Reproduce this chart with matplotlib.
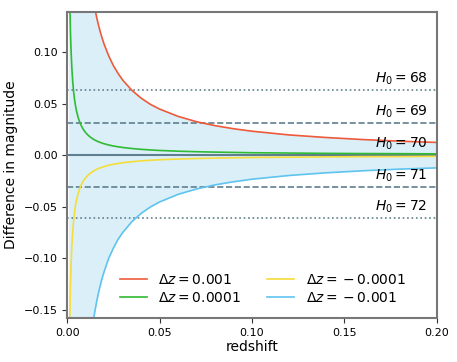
import matplotlib
matplotlib.use("Agg")
import matplotlib.pyplot as plt

# redshift grid
z = [0.0011, 0.0012, 0.0014, 0.0016, 0.0018, 0.002, 0.0025, 0.003, 0.0035,
     0.004, 0.0045, 0.005, 0.006, 0.007, 0.008, 0.009, 0.01, 0.011, 0.012,
     0.013, 0.014, 0.015, 0.016, 0.017, 0.018, 0.019, 0.02, 0.0225, 0.025,
     0.0275, 0.03, 0.035, 0.04, 0.045, 0.05, 0.06, 0.07, 0.08, 0.09, 0.1,
     0.12, 0.14, 0.16, 0.18, 0.2]

dm_p001 = [1.406, 1.318, 1.172, 1.056, 0.961, 0.882, 0.733, 0.627, 0.545,
           0.487, 0.436, 0.398, 0.337, 0.292, 0.258, 0.230, 0.209, 0.1913,
           0.1755, 0.1628, 0.1515, 0.1419, 0.1333, 0.1258, 0.1191, 0.1131,
           0.1076, 0.0962, 0.0869, 0.0794, 0.0729, 0.0629, 0.0553, 0.0493,
           0.0447, 0.0376, 0.0324, 0.0286, 0.0256, 0.0232, 0.0196, 0.0171,
           0.0151, 0.0135, 0.0123]
dm_p0001 = [0.189, 0.174, 0.150, 0.1318, 0.1176, 0.1061, 0.0854, 0.0714,
            0.0614, 0.0538, 0.0480, 0.0432, 0.0361, 0.0310, 0.0272, 0.0242,
            0.0218, 0.0199, 0.0182, 0.0169, 0.0156, 0.0146, 0.0137, 0.0129,
            0.0122, 0.0116, 0.0110, 0.0098, 0.0088, 0.0081, 0.0074, 0.0064,
            0.0056, 0.0050, 0.0045, 0.0038, 0.0033, 0.0029, 0.0026, 0.0023,
            0.0020, 0.0017, 0.0015, 0.0014, 0.0012]
dm_m0001 = [-0.207, -0.189, -0.1611, -0.1403, -0.1243, -0.1116, -0.0888,
            -0.0738, -0.0632, -0.0552, -0.0490, -0.0441, -0.0367, -0.0314,
            -0.0275, -0.0244, -0.0220, -0.0200, -0.0184, -0.0170, -0.0158,
            -0.0147, -0.0138, -0.0130, -0.0123, -0.0116, -0.0111, -0.0098,
            -0.0089, -0.0081, -0.0074, -0.0064, -0.0056, -0.0050, -0.0045,
            -0.0038, -0.0033, -0.0029, -0.0026, -0.0023, -0.0020, -0.0017,
            -0.0015, -0.0014, -0.0012]
dm_m001 = [-5.209, -3.893, -2.722, -2.132, -1.763, -1.507, -1.111, -0.882,
           -0.731, -0.626, -0.546, -0.486, -0.398, -0.337, -0.292, -0.258,
           -0.2305, -0.2087, -0.1906, -0.1754, -0.1626, -0.1515, -0.1418,
           -0.1333, -0.1258, -0.1191, -0.1131, -0.1001, -0.0903, -0.0819,
           -0.0753, -0.0646, -0.0566, -0.0504, -0.0455, -0.0381, -0.0329,
           -0.0289, -0.0259, -0.0234, -0.0198, -0.0172, -0.0152, -0.0136,
           -0.0124]

h0_values = [68, 69, 70, 71, 72]
h0_offsets = [0.0630, 0.0312, 0.0, -0.0308, -0.0612]
h0_styles = [":", "--", "-", "--", ":"]

fig = plt.figure(figsize=(4.57, 3.62), dpi=100)
ax = fig.add_axes([0.147, 0.122, 0.809, 0.845])

ax.fill_between(z, dm_m001, dm_p001, color="#dbeff9", lw=0)

hcol = "#5f7f8e"
for h0, off, ls in zip(h0_values, h0_offsets, h0_styles):
    ax.axhline(off, color=hcol, ls=ls, lw=1.5 if ls == "-" else 1.2, zorder=1)
    ax.text(0.195, off + 0.003, f"$H_0 = {h0}$", ha="right", va="bottom",
            fontsize=10)

l1, = ax.plot(z, dm_p001, color="#ee5a3a", lw=1.2, label=r"$\Delta z = 0.001$")
l2, = ax.plot(z, dm_p0001, color="#2fbb33", lw=1.2, label=r"$\Delta z = 0.0001$")
l3, = ax.plot(z, dm_m0001, color="#f5dd3a", lw=1.2, label=r"$\Delta z = {}-0.0001$")
l4, = ax.plot(z, dm_m001, color="#5ec3ee", lw=1.2, label=r"$\Delta z = {}-0.001$")

ax.set_xlim(0, 0.2)
ax.set_ylim(-0.158, 0.139)
ax.set_xticks([0.0, 0.05, 0.10, 0.15, 0.20])
ax.set_yticks([-0.15, -0.10, -0.05, 0.0, 0.05, 0.10])
ax.set_xticklabels(["0.00", "0.05", "0.10", "0.15", "0.20"])
ax.set_yticklabels(["\u22120.15", "\u22120.10", "\u22120.05", "0.00", "0.05", "0.10"])
ax.tick_params(labelsize=8, length=3.5, color="#333333")
for s in ax.spines.values():
    s.set_color("#777777")
    s.set_linewidth(1.5)

ax.set_xlabel("redshift", fontsize=10, labelpad=2)
ax.set_ylabel("Difference in magnitude", fontsize=10)

ax.legend(handles=[l1, l2, l3, l4], ncol=2, frameon=False, fontsize=10,
          loc="lower left", bbox_to_anchor=(0.108, 0.0),
          handlelength=2.0, columnspacing=1.8, labelspacing=0.3)

fig.savefig("out.png", dpi=100)
